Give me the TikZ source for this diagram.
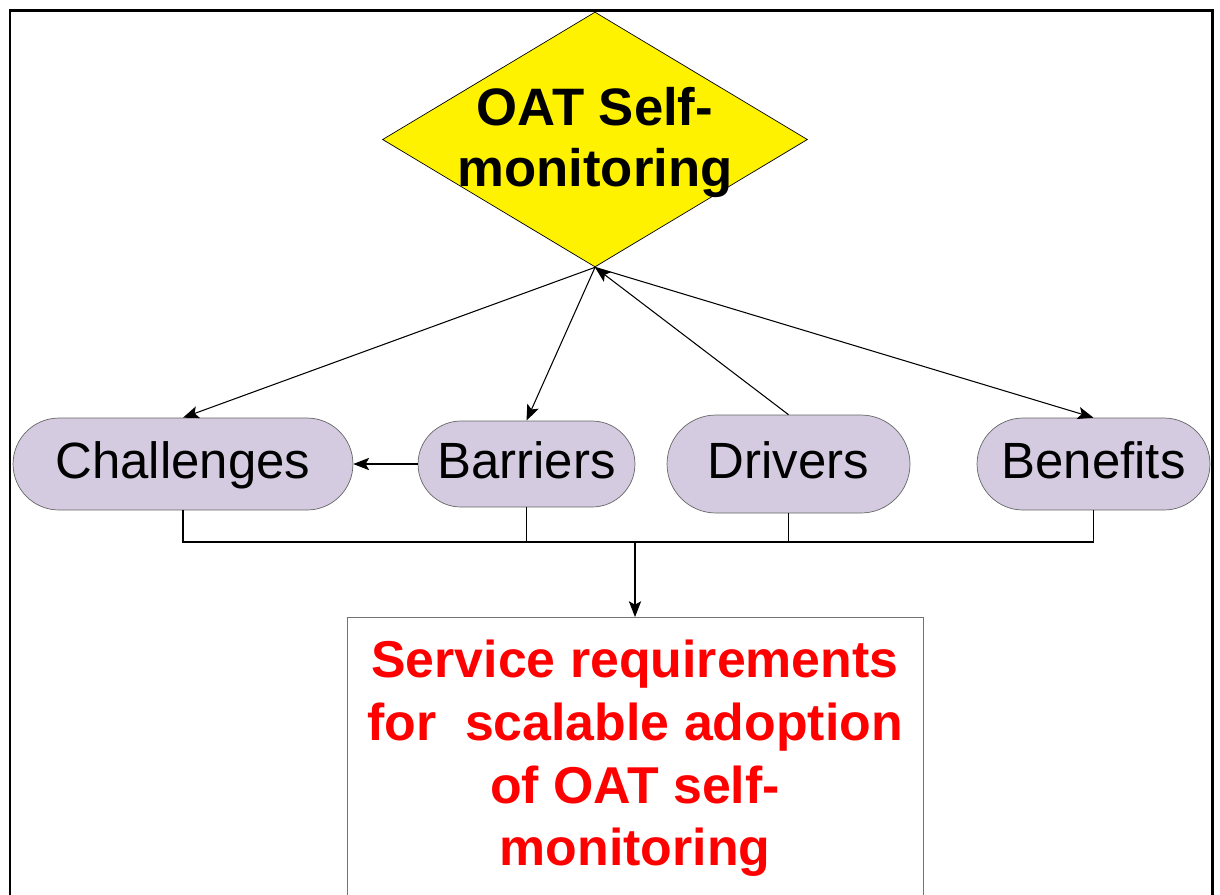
\documentclass[tikz,border=0pt]{standalone}
\usepackage{fontspec}
\setmainfont{Liberation Sans}
\usepackage{tikz}
\usetikzlibrary{shapes.geometric,shapes.misc,arrows.meta}
\definecolor{lilac}{HTML}{D4CBE0}

\begin{document}
\begin{tikzpicture}[x=0.02cm,y=-0.02cm,
	pill/.style={rounded rectangle, draw=black!60, fill=lilac, inner sep=0pt, text height=22pt, text depth=5pt, font=\fontsize{29}{34}\selectfont},
	link/.style={-{Stealth[length=9pt,width=7pt,inset=2pt]}, line width=0.6pt},
	wire/.style={line width=0.6pt}]
\useasboundingbox (0,0) rectangle (1220,894);
\clip (0,0) rectangle (1220,894);
\draw[line width=1.7pt] (10,900) -- (10,10) -- (1212,10) -- (1212,900);

\node (oat) at (595,139.5) [diamond, draw, fill=yellow, minimum width=8.5cm, minimum height=5.1cm, inner sep=0pt] {};
	\node (oattext) at (595,142.5) [align=center, font=\bfseries\fontsize{30}{35}\selectfont] {OAT Self-\\monitoring};
\node (chal) at (183,464) [pill, minimum width=6.8cm, minimum height=1.84cm] {Challenges};
\node (barr) at (526.5,464) [pill, minimum width=4.34cm, minimum height=1.72cm] {Barriers};
\node (driv) at (788.5,464) [pill, minimum width=4.86cm, minimum height=1.96cm] {Drivers};
\node (bene) at (1093.5,464) [pill, minimum width=4.66cm, minimum height=1.84cm] {Benefits};
\node (req) at (635,617) [anchor=north, draw=black!55, text=red, align=center, minimum width=11.52cm, inner ysep=13pt, font=\bfseries\fontsize{29.5}{35.7}\selectfont] {Service requirements\\for\ \ scalable adoption\\of OAT self-\\monitoring};
\coordinate (join) at (635,542);

\path (oat.south) edge[link] (chal.north)
	edge[link] (barr.north)
	edge[link] (bene.north);
\draw[link] (driv.north) -- (oat.south);
\draw[link] (barr.west) -- (chal.east);

\draw[wire] (chal.south) |- (join);
\draw[wire] (barr.south) |- (join);
\draw[wire] (driv.south) |- (join);
\draw[wire] (bene.south) |- (join);
\draw[link] (join) -- (req.north);
\end{tikzpicture}
\end{document}
